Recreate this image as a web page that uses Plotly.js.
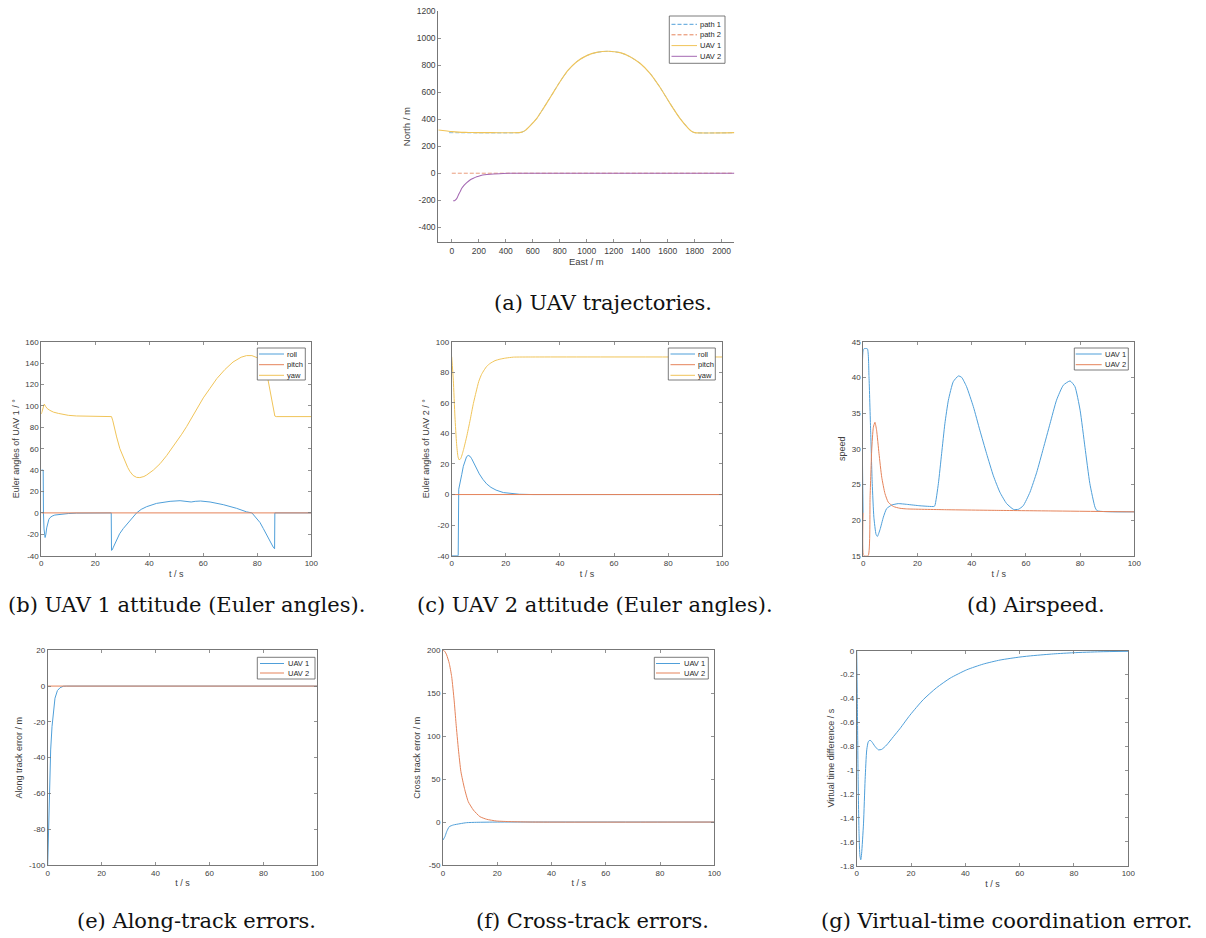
<!DOCTYPE html>
<html><head><meta charset="utf-8">
<script src="https://cdn.plot.ly/plotly-3.0.1.min.js"></script>
<style>html,body{margin:0;padding:0;background:#fff}#chart{width:1206px;height:938px}</style>
</head><body><div id="chart"></div>
<script>
// ===================== DATA =====================
// (a) UAV trajectories (East / North, m)
const path1East  = [-20, 500, 520, 543, 580, 630, 679, 741, 802, 864, 926, 1000, 1074, 1160, 1247, 1321, 1395, 1469, 1543, 1617, 1691, 1753, 1780, 1802, 2094];
const path1North = [300, 300, 304, 315, 350, 406, 480, 579, 677, 764, 825, 870, 894, 902, 892, 862, 813, 739, 636, 517, 406, 332, 308, 300, 300];
const path2East  = [0, 2094];
const path2North = [0, 0];
const uav1East   = [-100, -50, 0, 50, 100, 150, 200, 300, 500, 520, 543, 580, 630, 679, 741, 802, 864, 926, 1000, 1074, 1160, 1247, 1321, 1395, 1469, 1543, 1617, 1691, 1753, 1780, 1802, 2094];
const uav1North  = [320, 314, 308, 304, 302, 301, 300, 300, 300, 304, 315, 350, 406, 480, 579, 677, 764, 825, 870, 894, 902, 892, 862, 813, 739, 636, 517, 406, 332, 308, 300, 300];
const uav2East   = [10, 20, 30, 40, 49, 62, 74, 92, 111, 135, 160, 185, 210, 260, 309, 380, 457, 600, 2094];
const uav2North  = [-203, -203, -196, -182, -161, -136, -111, -88, -70, -50, -37, -26, -18, -10, -5, -2, 0, 0, 0];
const trajNames  = ['path 1', 'path 2', 'UAV 1', 'UAV 2'];
const eastTicks  = [0, 200, 400, 600, 800, 1000, 1200, 1400, 1600, 1800, 2000];
const eastLabels = ['0', '200', '400', '600', '800', '1000', '1200', '1400', '1600', '1800', '2000'];
const northTicks  = [-400, -200, 0, 200, 400, 600, 800, 1000, 1200];
const northLabels = ['-400', '-200', '0', '200', '400', '600', '800', '1000', '1200'];

// (b) UAV 1 Euler angles (deg)
const rollT1  = [0, 0.7, 0.8, 1.0, 1.4, 1.7, 2.0, 2.4, 2.8, 3.2, 4, 5, 7, 10, 13, 16, 25.9, 26.0, 26.3, 26.7, 27.9, 29, 30.4, 32, 33.5, 35.3, 37, 39, 42.7, 47.7, 51.4, 54, 55.5, 57, 59, 62.5, 67.4, 72.3, 76, 78, 79.8, 81, 82.2, 83.5, 84.7, 85.9, 86.4, 86.5, 100];
const roll1   = [40, 40, 0, -15, -23, -20, -14, -9, -6, -4.5, -3, -2, -1.2, -0.6, -0.2, 0, 0, -35, -34.5, -32, -25.4, -19.5, -14.5, -9.5, -5, 0, 3.3, 5.8, 8.9, 10.8, 11.4, 10.8, 10.2, 10.8, 11.1, 10.2, 7.7, 4.3, 1, 0, -5, -9, -14.5, -21, -27, -32, -33.5, 0, 0];
const pitchT1 = [0, 100];
const pitch1  = [0, 0];
const yawT1   = [0, 0.5, 1.1, 1.6, 2.2, 3.2, 4.5, 6.3, 8, 10, 13, 16, 20, 26, 26.5, 27.2, 27.9, 29.1, 30, 31, 32, 32.8, 34, 35.3, 36.5, 38, 39, 41.5, 44, 46.4, 48, 50.1, 52, 53.8, 56, 58, 60, 62.5, 65, 68, 71, 74, 76, 78, 80, 82, 83, 84, 85.3, 86.5, 87, 100];
const yaw1    = [92.4, 97, 101.7, 99.5, 97.5, 95.8, 94.2, 93, 92, 91.2, 90.6, 90.3, 90.1, 90, 86, 78, 71, 60, 54, 48, 42.5, 38.8, 35, 33.2, 33, 34, 35.4, 40, 46, 53.5, 59, 66.5, 73.5, 80.6, 90, 99, 107.5, 116.5, 125.5, 134, 141, 145.5, 147, 147, 145, 141, 135, 124, 105.5, 90.5, 90, 90];

// (c) UAV 2 Euler angles (deg)
const rollT2  = [0, 2.4, 2.6, 3, 3.7, 4.3, 4.9, 5.5, 6.1, 6.8, 7.4, 8.6, 10.2, 11.5, 12.9, 14.5, 16.4, 19.1, 22, 25, 30, 100];
const roll2   = [-40, -40, 3.5, 6.5, 13, 18.5, 22.5, 24.8, 25.6, 25, 23.4, 19, 13.5, 10, 7, 4.7, 2.9, 1.3, 0.6, 0.2, 0, 0];
const pitchT2 = [0, 100];
const pitch2  = [0, 0];
const yawT2   = [0, 0.6, 1.2, 1.8, 2.3, 2.7, 3.3, 4.3, 5.5, 6.8, 8, 9, 10, 11, 12, 13, 14.2, 16, 17.9, 20, 22.8, 30, 100];
const yaw2    = [90.2, 74.8, 50.8, 33.3, 25, 22.8, 23.4, 28.9, 37.6, 48.6, 59.5, 67, 74, 78.5, 81.5, 84, 85.8, 87.6, 88.6, 89.3, 89.9, 90, 90];
const eulerNames = ['roll', 'pitch', 'yaw'];

// (d) Airspeed
const speedT1 = [0, 0.2, 1.5, 2.1, 2.7, 3.3, 3.9, 4.7, 5.2, 6.2, 7.4, 8.6, 10.5, 12.9, 16, 20.9, 26, 26.4, 27.7, 28.9, 30.1, 31.4, 33.2, 35.1, 36.3, 38.1, 40.6, 43, 45.5, 48, 50.4, 52.9, 55.4, 57.2, 59, 61.5, 64, 66.4, 68.9, 71.3, 73.8, 76.3, 78.1, 80, 81.8, 83.6, 85.5, 86.3, 100];
const speed1  = [21, 44, 44, 40.1, 32.6, 25.1, 20.4, 18, 17.7, 18.7, 20.4, 21.6, 22.1, 22.3, 22.2, 22.0, 21.9, 22.0, 25.1, 29.3, 33.5, 36.8, 39.4, 40.2, 40.0, 38.7, 35.9, 32.6, 29.3, 26.2, 23.9, 22.3, 21.5, 21.5, 22.0, 23.9, 26.7, 30, 33.5, 36.8, 38.9, 39.5, 38.7, 35.4, 30.2, 25.1, 21.8, 21.3, 21.15];
const speedT2 = [0, 0.2, 1.8, 2.5, 3.1, 3.7, 4.3, 4.9, 5.8, 6.8, 8, 9.2, 11.1, 13.5, 16, 30, 50, 70, 100];
const speed2  = [21, 15, 15, 23.2, 29.8, 33, 33.7, 32.6, 29.3, 26, 23.7, 22.5, 21.9, 21.65, 21.56, 21.45, 21.35, 21.27, 21.15];
const uavNames = ['UAV 1', 'UAV 2'];

// (e) Along-track errors (m)
const alongT1 = [0, 0.4, 0.7, 1.1, 1.6, 2.1, 2.7, 3.6, 4.6, 5.8, 7, 100];
const along1  = [-100, -78.6, -52.5, -35.7, -22.7, -13.4, -6.8, -2.5, -0.9, -0.1, 0, 0];
const alongT2 = [0, 100];
const along2  = [0, 0];

// (f) Cross-track errors (m)
const crossT1 = [0, 0.7, 1.35, 2.3, 3.8, 6.3, 8.7, 12.4, 20, 100];
const cross1  = [-20.9, -17, -11.2, -5.4, -3.4, -1.9, -0.7, -0.3, 0, 0];
const crossT2 = [0, 0.6, 1.35, 2.3, 3.2, 4.1, 4.8, 5.7, 6.6, 7.9, 9.3, 11.2, 13.6, 16.1, 19.8, 24.7, 33, 100];
const cross2  = [200, 199, 194.6, 184.9, 169.3, 142, 115, 84, 58.7, 39.3, 23.8, 14, 6.3, 3.2, 1.2, 0.5, 0, 0];

// (g) Virtual-time coordination error (s)
const vtT = [0, 0.25, 0.5, 0.86, 1.2, 1.5, 1.8, 2.5, 3.1, 3.7, 4.3, 4.9, 5.5, 6.7, 8, 9.2, 11, 13.5, 16, 19.6, 24.5, 29.4, 34.4, 40.5, 46.6, 52.8, 60.1, 65, 72.4, 79.8, 89.6, 100];
const vtDiff = [0, -0.47, -1.03, -1.53, -1.72, -1.75, -1.70, -1.45, -1.08, -0.83, -0.76, -0.75, -0.76, -0.80, -0.83, -0.826, -0.79, -0.72, -0.65, -0.54, -0.41, -0.31, -0.23, -0.16, -0.112, -0.078, -0.053, -0.041, -0.027, -0.017, -0.009, -0.005];

// tick labels
const tTicks = [0, 20, 40, 60, 80, 100];
const tLabels = ['0', '20', '40', '60', '80', '100'];
const euler1Ticks = [-40, -20, 0, 20, 40, 60, 80, 100, 120, 140, 160];
const euler1Labels = ['-40', '-20', '0', '20', '40', '60', '80', '100', '120', '140', '160'];
const euler2Ticks = [-40, -20, 0, 20, 40, 60, 80, 100];
const euler2Labels = ['-40', '-20', '0', '20', '40', '60', '80', '100'];
const speedTicks = [15, 20, 25, 30, 35, 40, 45];
const speedLabels = ['15', '20', '25', '30', '35', '40', '45'];
const alongTicks = [-100, -80, -60, -40, -20, 0, 20];
const alongLabels = ['-100', '-80', '-60', '-40', '-20', '0', '20'];
const crossTicks = [-50, 0, 50, 100, 150, 200];
const crossLabels = ['-50', '0', '50', '100', '150', '200'];
const vtTicks = [-1.8, -1.6, -1.4, -1.2, -1, -0.8, -0.6, -0.4, -0.2, 0];
const vtLabels = ['-1.8', '-1.6', '-1.4', '-1.2', '-1', '-0.8', '-0.6', '-0.4', '-0.2', '0'];

const captions = ['(a) UAV trajectories.', '(b) UAV 1 attitude (Euler angles).', '(c) UAV 2 attitude (Euler angles).', '(d) Airspeed.', '(e) Along-track errors.', '(f) Cross-track errors.', '(g) Virtual-time coordination error.'];

// ===================== STYLE / LAYOUT =====================
const W = 1206, H = 938;
const FONT = 'Liberation Sans, Arial, Helvetica, sans-serif';
const SERIF = 'DejaVu Serif, Liberation Serif, serif';
const AX = '#777777', TXT = '#404040';
const C = {blue: '#4f9fd9', orange: '#e5835a', yellow: '#f0c459', purple: '#a468b2'};
const LW = 1;

// plot boxes in pixels [left, top, right, bottom]
const boxes = {
  a: [438.3, 11, 734.3, 242.3],
  b: [41.3, 341.7, 311.3, 555.7],
  c: [451.7, 341.7, 722.3, 555.7],
  d: [863.3, 341.7, 1134.3, 555.7],
  e: [47.7, 650.3, 317.3, 865],
  f: [443, 650.3, 714.3, 865],
  g: [856.7, 650.7, 1128.3, 865.7]
};

function baseAxis(range, vals, texts, title, mirror, standoff, fs) {
  return {
    range: range, tickmode: 'array', tickvals: vals, ticktext: texts,
    showline: true, linecolor: AX, linewidth: 1, mirror: mirror,
    ticks: 'inside', ticklen: 3, tickwidth: 0.8, tickcolor: AX,
    showgrid: false, zeroline: false, automargin: false, fixedrange: true,
    tickfont: {family: FONT, size: fs, color: TXT},
    title: {text: title, font: {family: FONT, size: fs + 1, color: TXT}, standoff: standoff}
  };
}
function xAx(box, anchor, range, vals, texts, title, mirror, fs) {
  const a = baseAxis(range, vals, texts, title, mirror, 3, fs || 8);
  a.domain = [box[0] / W, box[2] / W]; a.anchor = anchor; return a;
}
function yAx(box, anchor, range, vals, texts, title, mirror, fs) {
  const a = baseAxis(range, vals, texts, title, mirror, 4, fs || 8);
  a.domain = [1 - box[3] / H, 1 - box[1] / H]; a.anchor = anchor; return a;
}

function line(x, y, ax, color, opts) {
  opts = opts || {};
  return {type: 'scatter', mode: 'lines', x: x, y: y, xaxis: 'x' + ax, yaxis: 'y' + ax,
          line: {color: color, width: opts.width || LW, dash: opts.dash || 'solid',
                 shape: opts.spline ? 'spline' : 'linear', smoothing: opts.spline || 0},
          showlegend: false, hoverinfo: 'skip'};
}

const traces = [
  line(path1East, path1North, '', C.blue, {dash: '4px,2px', width: 0.7, spline: 0.6}),
  line(path2East, path2North, '', C.orange, {dash: '4px,2px', width: 0.8}),
  line(uav1East, uav1North, '', C.yellow, {width: 1.15, spline: 0.6}),
  line(uav2East, uav2North, '', C.purple, {width: 1.05, spline: 0.6}),
  line(rollT1, roll1, '2', C.blue),
  line(pitchT1, pitch1, '2', C.orange),
  line(yawT1, yaw1, '2', C.yellow),
  line(rollT2, roll2, '3', C.blue),
  line(pitchT2, pitch2, '3', C.orange),
  line(yawT2, yaw2, '3', C.yellow, {spline: 0.5}),
  line(speedT1, speed1, '4', C.blue, {spline: 0.5}),
  line(speedT2, speed2, '4', C.orange, {spline: 0.5}),
  line(alongT1, along1, '5', C.blue),
  line(alongT2, along2, '5', C.orange),
  line(crossT1, cross1, '6', C.blue, {spline: 0.5}),
  line(crossT2, cross2, '6', C.orange, {spline: 0.5}),
  line(vtT, vtDiff, '7', C.blue, {spline: 0.6})
];

const layout = {
  width: W, height: H, margin: {l: 0, r: 0, t: 0, b: 0},
  paper_bgcolor: '#fff', plot_bgcolor: '#fff', showlegend: false,
  xaxis:  xAx(boxes.a, 'y',  [-100, 2094], eastTicks, eastLabels, 'East / m', false, 8.5),
  yaxis:  yAx(boxes.a, 'x',  [-511, 1200], northTicks, northLabels, 'North / m', false, 8.5),
  xaxis2: xAx(boxes.b, 'y2', [0, 100], tTicks, tLabels, 't / s', 'ticks'),
  yaxis2: yAx(boxes.b, 'x2', [-40, 160], euler1Ticks, euler1Labels, 'Euler angles of UAV 1 / °', 'ticks'),
  xaxis3: xAx(boxes.c, 'y3', [0, 100], tTicks, tLabels, 't / s', 'ticks'),
  yaxis3: yAx(boxes.c, 'x3', [-40, 100], euler2Ticks, euler2Labels, 'Euler angles of UAV 2 / °', 'ticks'),
  xaxis4: xAx(boxes.d, 'y4', [0, 100], tTicks, tLabels, 't / s', 'ticks'),
  yaxis4: yAx(boxes.d, 'x4', [15, 45], speedTicks, speedLabels, 'speed', 'ticks'),
  xaxis5: xAx(boxes.e, 'y5', [0, 100], tTicks, tLabels, 't / s', 'ticks'),
  yaxis5: yAx(boxes.e, 'x5', [-100, 20], alongTicks, alongLabels, 'Along track error / m', 'ticks'),
  xaxis6: xAx(boxes.f, 'y6', [0, 100], tTicks, tLabels, 't / s', 'ticks'),
  yaxis6: yAx(boxes.f, 'x6', [-50, 200], crossTicks, crossLabels, 'Cross track error / m', 'ticks'),
  xaxis7: xAx(boxes.g, 'y7', [0, 100], tTicks, tLabels, 't / s', 'ticks'),
  yaxis7: yAx(boxes.g, 'x7', [-1.8, 0], vtTicks, vtLabels, 'Virtual time difference / s', 'ticks'),
  shapes: [], annotations: []
};

// legends (MATLAB-style boxes), geometry in pixels
function legend(box, rowsY, lineX, textX, names, colors, dashes) {
  layout.shapes.push({type: 'rect', xref: 'paper', yref: 'paper',
    x0: box[0] / W, x1: box[2] / W, y0: 1 - box[3] / H, y1: 1 - box[1] / H,
    fillcolor: '#fff', line: {color: '#5a5a5a', width: 0.8}, layer: 'above'});
  names.forEach((n, i) => {
    layout.shapes.push({type: 'line', xref: 'paper', yref: 'paper',
      x0: lineX[0] / W, x1: lineX[1] / W, y0: 1 - rowsY[i] / H, y1: 1 - rowsY[i] / H,
      line: {color: colors[i], width: LW, dash: dashes ? dashes[i] : 'solid'}, layer: 'above'});
    layout.annotations.push({xref: 'paper', yref: 'paper', x: textX / W, y: 1 - rowsY[i] / H,
      xanchor: 'left', yanchor: 'middle', text: n, showarrow: false, borderpad: 0,
      font: {family: FONT, size: 7.5, color: '#262626'}});
  });
}
legend([669.3, 16, 725, 63.3], [24.3, 34.8, 45.6, 56.3], [671.5, 697], 699, trajNames,
       [C.blue, C.orange, C.yellow, C.purple], ['4px,2px', '4px,2px', 'solid', 'solid']);
legend([257.3, 348, 305.3, 380], [354, 364.7, 375.3], [259, 284], 286, eulerNames, [C.blue, C.orange, C.yellow]);
legend([668.3, 348, 715.3, 380], [354, 364.7, 375.3], [670.5, 695], 697, eulerNames, [C.blue, C.orange, C.yellow]);
legend([1074.3, 348, 1128.3, 370], [354, 364.7], [1075.7, 1101.7], 1103.5, uavNames, [C.blue, C.orange]);
legend([257.3, 657.3, 315, 679], [663.5, 673], [260, 284], 286.5, uavNames, [C.blue, C.orange]);
legend([654.3, 657.3, 708.3, 679], [663.5, 673], [656, 680], 683, uavNames, [C.blue, C.orange]);

// captions
const capPos = [[603, 303], [187, 605], [595, 605], [1036, 605], [196, 921], [592, 921], [1006, 921]];
captions.forEach((t, i) => {
  layout.annotations.push({xref: 'paper', yref: 'paper', x: capPos[i][0] / W, y: 1 - capPos[i][1] / H,
    xanchor: 'center', yanchor: 'middle', text: t, showarrow: false,
    font: {family: SERIF, size: 21, color: '#111'}});
});

Plotly.newPlot('chart', traces, layout, {staticPlot: true, displayModeBar: false});
</script></body></html>
